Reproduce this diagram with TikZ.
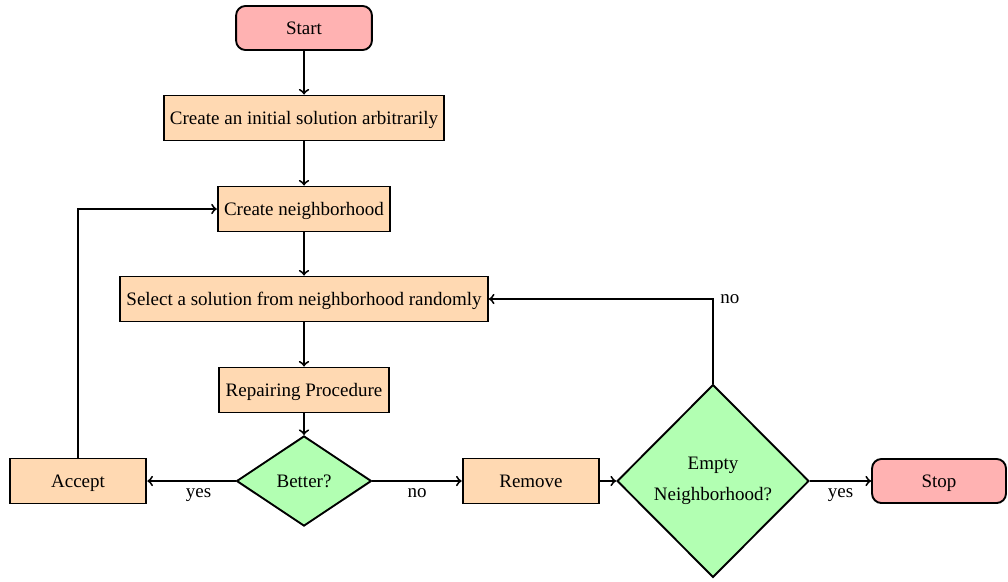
\documentclass[tikz,border=0pt]{standalone}
\usepackage{fontspec}
\setmainfont{Liberation Serif}
\usetikzlibrary{shapes.geometric,arrows}
\begin{document}
\begin{tikzpicture}[x=0.5263pt,y=-0.5263pt,
  font=\fontsize{10}{12}\selectfont,
  line width=1pt,
  terminal/.style={draw, rounded corners=5pt, fill=red!30, minimum width=71.5pt, minimum height=23.2pt, text height=1.6ex, text depth=0.2ex},
  process/.style={draw, fill=orange!30, minimum height=23.7pt, text height=1.6ex, text depth=0.2ex},
  decision/.style={draw, diamond, fill=green!30, inner sep=0pt, align=center},
  flow/.style={->, >=to}
]
\useasboundingbox (0,0) rectangle (1008,581);

\node[terminal] (start) at (304,28) {Start};
\node[process] (init) at (304,118) {Create an initial solution arbitrarily};
\node[process] (neigh) at (304,209) {Create neighborhood};
\node[process] (select) at (304,299) {Select a solution from neighborhood randomly};
\node[process] (repair) at (304,390) {Repairing Procedure};
\node[decision, minimum width=71pt, minimum height=47.4pt] (better) at (304,481) {Better?};
\node[process, minimum width=72pt] (accept) at (78,481) {Accept};
\node[process, minimum width=72pt] (remove) at (531,481) {Remove};
\node[decision, minimum width=101pt, minimum height=101.5pt] (empty) at (713,481) {Empty\\[4pt]Neighborhood?};
\node[terminal, minimum width=70.5pt] (stop) at (939,481) {Stop};

\draw[flow] (start) -- (init);
\draw[flow] (init) -- (neigh);
\draw[flow] (neigh) -- (select);
\draw[flow] (select) -- (repair);
\draw[flow] (repair) -- (better);
\draw[flow] (better) -- node[below, pos=0.42] {yes} (accept);
\draw[flow] (better) -- node[below] {no} (remove);
\draw[flow] (remove) -- (empty);
\draw[flow] (empty) -- node[below] {yes} (stop);
\draw[flow] (empty.north) |- node[pos=0.5, right] {no} (select.east);
\draw[flow] (accept.north) |- (neigh.west);
\end{tikzpicture}
\end{document}
